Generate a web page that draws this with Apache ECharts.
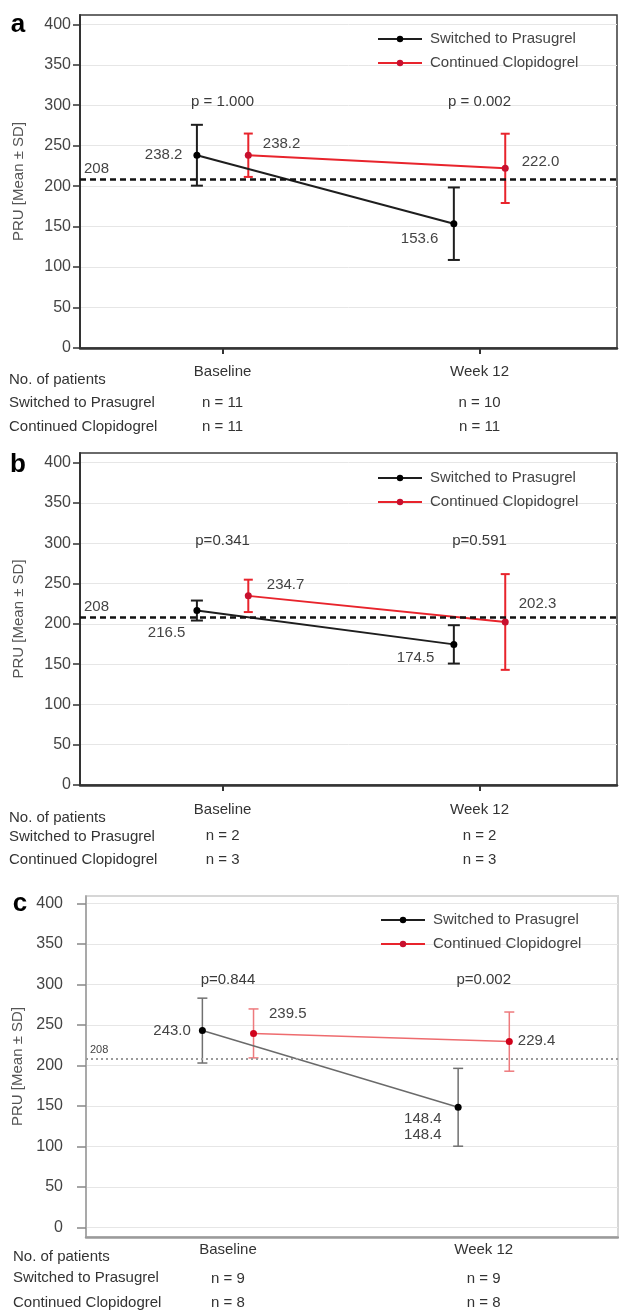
<!DOCTYPE html>
<html><head><meta charset="utf-8">
<script src="https://cdn.jsdelivr.net/npm/echarts@6/dist/echarts.min.js"></script>
<style>html,body{margin:0;padding:0;background:#fff}#chart{width:619px;height:1314px}</style>
</head><body><div id="chart"></div>
<script>
// ---------- DATA ----------
const categories = ['Baseline', 'Week 12'];
const seriesNames = ['Switched to Prasugrel', 'Continued Clopidogrel'];
const yTicks = [0, 50, 100, 150, 200, 250, 300, 350, 400];
const threshold = 208;
const rowLabels = ['No. of patients', 'Switched to Prasugrel', 'Continued Clopidogrel'];

// Panel a
const a_prasMean = [238.2, 153.6];
const a_prasSD = [37.6, 44.8];
const a_clopMean = [238.2, 222.0];
const a_clopSD = [26.8, 42.8];
const a_pValues = ['p = 1.000', 'p = 0.002'];
const a_prasN = [11, 10];
const a_clopN = [11, 11];
// Panel b
const b_prasMean = [216.5, 174.5];
const b_prasSD = [12.4, 23.8];
const b_clopMean = [234.7, 202.3];
const b_clopSD = [20.1, 59.4];
const b_pValues = ['p=0.341', 'p=0.591'];
const b_prasN = [2, 2];
const b_clopN = [3, 3];
// Panel c
const c_prasMean = [243.0, 148.4];
const c_prasSD = [40.0, 48.0];
const c_clopMean = [239.5, 229.4];
const c_clopSD = [30.2, 36.5];
const c_pValues = ['p=0.844', 'p=0.002'];
const c_prasN = [9, 9];
const c_clopN = [8, 8];

// ---------- LAYOUT / STYLE ----------
const FONT = '"Liberation Sans", Arial, sans-serif';
const FS = 15;
const dup = p => { const v = p.value[1].toFixed(1); return v + '\n' + v; };
const dark = {
  line: ['#1e1e1e', '#e8242c'], lineW: 2, marker: ['#000000', '#c8102e'],
  err: ['#1e1e1e', '#e8242c'], errW: 2, cap: [12, 9],
  border: '#3a3a3a', borderW: 1.5, axis: '#333', yAxisW: 2, xAxisW: 2.5,
  tick: '#333', tickLen: 7, xTick: true, labelMargin: 9,
  ref: { color: '#111', width: 2.5, type: [6, 4] }, refFont: 15
};
const light = {
  line: ['#6a6a6a', '#ee6b6e'], lineW: 1.5, marker: ['#000000', '#d0021b'],
  err: ['#707070', '#ee7a7d'], errW: 1.5, cap: [10, 10],
  border: '#d6d6d6', borderW: 2, axis: '#9a9a9a', yAxisW: 1.5, xAxisW: 2.5,
  tick: '#888', tickLen: 9, xTick: false, labelMargin: 23,
  ref: { color: '#999', width: 2, type: [2, 3] }, refFont: 11
};
const panels = [
  { letter: 'a', letterPos: [18, 38], mean: [a_prasMean, a_clopMean], sd: [a_prasSD, a_clopSD], p: a_pValues, n: [a_prasN, a_clopN],
    grid: { left: 80, top: 15, width: 537, height: 333 }, y: [0, 411.5], x: [0.445, 2.535], st: dark, pY: 304,
    xl: { margin: 5, h: 38 }, rows: [9, 380, 403, 427], legend: [377, 31],
    lab: [[{ position: 'left', distance: 11 }, { position: 'left', distance: 12, offset: [0, 15] }],
          [{ position: 'right', distance: 11, offset: [0, -11] }, { position: 'right', distance: 13, offset: [0, -6] }]] },
  { letter: 'b', letterPos: [18, 478], mean: [b_prasMean, b_clopMean], sd: [b_prasSD, b_clopSD], p: b_pValues, n: [b_prasN, b_clopN],
    grid: { left: 80, top: 453, width: 537, height: 332 }, y: [0, 412], x: [0.445, 2.535], st: dark, pY: 303,
    xl: { margin: 10, h: 29 }, rows: [9, 818, 837, 860], legend: [377, 470],
    lab: [[{ position: 'left', distance: 8, offset: [0, 22] }, { position: 'left', distance: 16, offset: [0, 13] }],
          [{ position: 'right', distance: 15, offset: [0, -11] }, { position: 'right', distance: 10, offset: [0, -18] }]] },
  { letter: 'c', letterPos: [20, 917], mean: [c_prasMean, c_clopMean], sd: [c_prasSD, c_clopSD], p: c_pValues, n: [c_prasN, c_clopN],
    grid: { left: 86, top: 896, width: 532, height: 341 }, y: [-11.6, 409], x: [0.445, 2.525], st: light, pY: 306,
    xl: { margin: -4, h: 34 }, rows: [13, 1257, 1278, 1303], legend: [380, 912],
    lab: [[{ position: 'left', distance: 8 }, { position: 'left', distance: 13, offset: [0, 20], lineHeight: 16, formatter: dup }],
          [{ position: 'right', distance: 12, offset: [0, -20] }, { position: 'right', distance: 5, offset: [0, -1] }]] }
];
const xOffset = [-0.1, 0.1];

// ---------- BUILD ----------
const grids = [], xAxes = [], yAxes = [], series = [], legends = [], graphics = [];
panels.forEach((P, k) => {
  const st = P.st;
  grids.push(Object.assign({ show: true, borderColor: st.border, borderWidth: st.borderW, backgroundColor: '#fff' }, P.grid));
  xAxes.push({
    type: 'value', gridIndex: k, min: P.x[0], max: P.x[1],
    axisLine: { show: true, onZero: false, lineStyle: { color: st.axis, width: st.xAxisW } },
    axisTick: { show: st.xTick, customValues: [1, 2], length: 6, lineStyle: { color: st.axis, width: 2 } },
    splitLine: { show: false },
    axisLabel: {
      customValues: [1, 2], margin: P.xl.margin, color: '#333', fontFamily: FONT,
      formatter: v => { const i = Math.round(v) - 1; return '{h|' + categories[i] + '}\n{n|n = ' + P.n[0][i] + '}\n{n|n = ' + P.n[1][i] + '}'; },
      rich: { h: { fontSize: FS, lineHeight: P.xl.h, color: '#333', fontFamily: FONT }, n: { fontSize: FS, lineHeight: 24, color: '#333', fontFamily: FONT } }
    }
  });
  yAxes.push({
    type: 'value', gridIndex: k, min: P.y[0], max: P.y[1], splitNumber: 8,
    name: 'PRU [Mean ± SD]', nameLocation: 'middle', nameGap: 54,
    nameTextStyle: { color: '#555', fontSize: FS, fontFamily: FONT },
    axisLine: { show: true, onZero: false, lineStyle: { color: st.axis, width: st.yAxisW } },
    axisTick: { show: true, customValues: yTicks, length: st.tickLen, lineStyle: { color: st.tick, width: 1.5 } },
    axisLabel: { customValues: yTicks, margin: st.labelMargin, color: '#444', fontSize: 16, fontFamily: FONT },
    splitLine: { show: true, lineStyle: { color: '#e6e6e6', width: 1 } }
  });
  // error bars
  [0, 1].forEach(s => {
    series.push({
      type: 'custom', name: 'err' + k + s, xAxisIndex: k, yAxisIndex: k, silent: true, z: 2,
      data: P.mean[s].map((m, i) => [i + 1 + xOffset[s], m - P.sd[s][i], m + P.sd[s][i]]),
      encode: { x: 0, y: [1, 2] },
      renderItem: (params, api) => {
        const x = api.value(0), lo = api.coord([x, api.value(1)]), hi = api.coord([x, api.value(2)]);
        const hw = st.cap[s] / 2, sty = { stroke: st.err[s], lineWidth: st.errW };
        return { type: 'group', children: [
          { type: 'line', shape: { x1: lo[0], y1: lo[1], x2: hi[0], y2: hi[1] }, style: sty },
          { type: 'line', shape: { x1: lo[0] - hw, y1: lo[1], x2: lo[0] + hw, y2: lo[1] }, style: sty },
          { type: 'line', shape: { x1: hi[0] - hw, y1: hi[1], x2: hi[0] + hw, y2: hi[1] }, style: sty }
        ] };
      }
    });
  });
  // mean lines
  [0, 1].forEach(s => {
    const ser = {
      type: 'line', name: seriesNames[s], xAxisIndex: k, yAxisIndex: k, z: 3,
      symbol: 'circle', symbolSize: 7, showAllSymbol: true,
      lineStyle: { color: st.line[s], width: st.lineW }, itemStyle: { color: st.marker[s] },
      emphasis: { disabled: true },
      label: { show: true, color: '#444', fontSize: FS, fontFamily: FONT, formatter: p => p.value[1].toFixed(1) },
      data: P.mean[s].map((m, i) => ({ value: [i + 1 + xOffset[s], m], label: P.lab[s][i] }))
    };
    if (s === 0) {
      ser.markLine = {
        silent: true, symbol: 'none', animation: false,
        data: [{ yAxis: threshold }],
        lineStyle: st.ref,
        label: { show: true, position: 'insideStartTop', formatter: String(threshold), color: '#444', fontSize: st.refFont, fontFamily: FONT, distance: [4, 3] }
      };
    }
    series.push(ser);
  });
  // p-values
  series.push({
    type: 'scatter', name: 'p' + k, xAxisIndex: k, yAxisIndex: k, symbolSize: 0, silent: true, z: 4,
    itemStyle: { opacity: 1 },
    data: P.p.map((t, i) => [i + 1, P.pY]),
    label: { show: true, position: 'inside', color: '#3a3a3a', fontSize: FS, fontFamily: FONT, formatter: q => P.p[q.dataIndex] }
  });
  legends.push({
    data: seriesNames, orient: 'vertical', left: P.legend[0], top: P.legend[1], padding: 0,
    itemWidth: 44, itemHeight: 8, itemGap: 8, selectedMode: false,
    textStyle: { color: '#444', fontSize: FS, fontFamily: FONT, lineHeight: 16, padding: [0, 0, 0, 3] }
  });
  graphics.push({ type: 'text', x: P.letterPos[0], y: P.letterPos[1], style: { text: P.letter, fill: '#000', font: 'bold 26px ' + FONT, align: 'center', verticalAlign: 'bottom' } });
  rowLabels.forEach((t, r) => {
    graphics.push({ type: 'text', x: P.rows[0], y: P.rows[r + 1], style: { text: t, fill: '#333', font: FS + 'px ' + FONT, verticalAlign: 'middle' } });
  });
});

const chart = echarts.init(document.getElementById('chart'), null, { renderer: 'canvas' });
chart.setOption({
  animation: false, backgroundColor: '#fff',
  grid: grids, xAxis: xAxes, yAxis: yAxes, series: series, legend: legends, graphic: graphics
});
</script></body></html>
